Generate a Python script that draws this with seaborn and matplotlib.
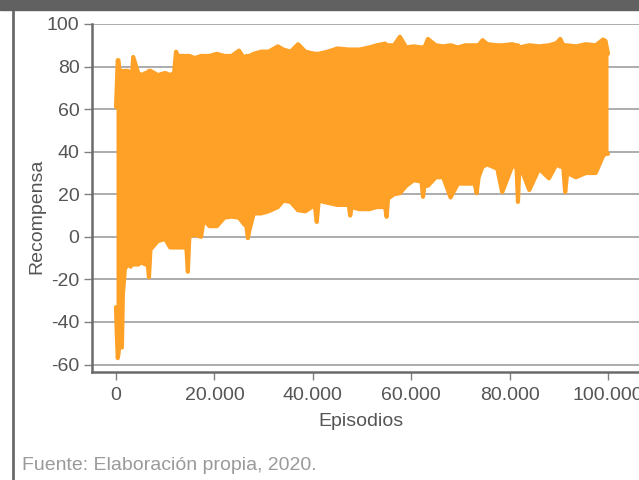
import numpy as np
import pandas as pd
import matplotlib
matplotlib.use("Agg")
import matplotlib.pyplot as plt
from matplotlib.lines import Line2D
from matplotlib.patches import Rectangle
from matplotlib.ticker import FuncFormatter
import seaborn as sns

# Envelope of the reward curve (max / min reward per stretch of episodes)
episodios = [0, 150, 350, 500, 700, 1000, 1200, 1400, 1800, 2400, 3000, 3300, 3500, 4500,
             5200, 6000, 6400, 6700, 7000, 8500, 10000, 11000, 11800, 12200, 12600, 13500,
             14300, 14600, 14900, 16000, 17300, 17800, 19000, 20500, 22000, 23500, 25000,
             26000, 26500, 26800, 27100, 28000, 29500, 31000, 32900, 34000, 35500, 37000,
             38500, 40400, 40800, 41200, 43000, 45000, 47300, 47600, 47900, 49500, 51500,
             53000, 54700, 55000, 55300, 56500, 57700, 59000, 60500, 62100, 62400, 62700,
             63400, 65000, 66500, 68000, 69500, 71000, 72900, 73300, 73700, 74500, 75500,
             77500, 78500, 80500, 81400, 81700, 82000, 84000, 86000, 88000, 89500, 90300,
             90900, 91300, 91700, 93500, 95500, 97500, 99000, 99500, 100000]
recompensa_max = [61, 70, 83, 83, 78, 78, 78, 77, 78, 78, 77, 78, 84.5, 77,
                  76, 77, 77, 78, 78, 76, 77, 76, 77, 87, 85, 85,
                  85, 85, 85, 84, 85, 85, 85, 86, 85, 85, 87.5,
                  84, 85, 84, 85, 86, 87, 87, 89.5, 88, 87, 90.5,
                  87, 86, 86, 86, 87, 88.5, 88, 88, 88, 88, 89,
                  90, 90.8, 90, 90, 90, 94, 89, 89.5, 89, 89, 89,
                  93, 90, 89.5, 90, 89, 90, 90, 90, 90, 92.4, 90.5,
                  90, 90, 90.5, 90, 90, 89, 90, 89.5, 90, 91, 93,
                  90, 90, 90, 89.5, 90.5, 90, 92.7, 92, 86]
recompensa_min = [-33, -45, -57, -55, -50, -52, -52, -27, -15, -13, -14, -11, -13, -13,
                  -12, -13, -12, -19, -6, -2, -1, -5, -5, -5, -5, -5,
                  -5, -16.4, 0, 1, 0, 8, 5, 5, 9, 9.5, 9,
                  6, 5, -0.6, 3, 11, 11, 12, 14, 17, 16.4, 12.5,
                  12, 15, 7, 17, 16, 15, 15, 10, 14, 13, 13,
                  14, 14, 9.4, 18, 20, 20.5, 24, 26.6, 26, 18.8, 24,
                  24, 28, 28, 18.5, 25, 25, 25, 20.5, 28, 33, 34,
                  32, 21, 33, 33, 16.4, 34, 22, 32, 27.5, 34, 33,
                  33, 21, 30, 28, 30, 30, 38, 39, 39]

y_ticks = [-60, -40, -20, 0, 20, 40, 60, 80, 100]
x_ticks = [0, 20000, 40000, 60000, 80000, 100000]

NARANJA = "#FFA126"
GRIS_TEXTO = "#555555"

sns.set_theme(style="white")
plt.rcParams["font.family"] = ["Liberation Sans", "DejaVu Sans"]
plt.rcParams["axes.unicode_minus"] = False

df = pd.DataFrame({
    "Episodios": episodios + episodios,
    "Recompensa": recompensa_max + recompensa_min,
    "borde": ["max"] * len(episodios) + ["min"] * len(episodios),
})

fig = plt.figure(figsize=(6.39, 4.8), dpi=100)
ax = fig.add_axes([92 / 639, 108 / 480, 547 / 639, 348 / 480])

# dense trace: filled between min and max reward
ax.fill_between(episodios, recompensa_min, recompensa_max, color=NARANJA, lw=0, zorder=3)
# rounded edges of the trace
sns.lineplot(data=df, x="Episodios", y="Recompensa", units="borde", estimator=None,
             color=NARANJA, lw=3, ax=ax, solid_capstyle="round",
             solid_joinstyle="round", zorder=3)

ax.set_xlim(-4880, 106300)
ax.set_ylim(-63.5, 100)
ax.set_yticks(y_ticks)
ax.set_xticks(x_ticks)
ax.xaxis.set_major_formatter(FuncFormatter(lambda v, p: f"{int(v):,}".replace(",", ".")))

ax.grid(axis="y", color="#a6a6a6", lw=1.3, zorder=0)
ax.grid(axis="x", visible=False)
for s in ["top", "right"]:
    ax.spines[s].set_visible(False)
for s in ["left", "bottom"]:
    ax.spines[s].set_color("#6b6b6b")
    ax.spines[s].set_linewidth(1.8)

ax.tick_params(axis="both", which="major", length=6, width=1, color="#808080",
               labelcolor=GRIS_TEXTO, labelsize=14, left=True, bottom=True)
ax.tick_params(axis="x", pad=5)
ax.tick_params(axis="y", pad=3)

ax.set_xlabel("Episodios", fontsize=14, color=GRIS_TEXTO)
ax.set_ylabel("Recompensa", fontsize=14, color=GRIS_TEXTO)
ax.yaxis.set_label_coords(-0.085, 0.448)
ax.xaxis.set_label_coords(0.492, -0.118)

# frame of the original page
fig.patches.append(Rectangle((0, 470 / 480), 1, 10 / 480, transform=fig.transFigure,
                             color="#616161", zorder=5))
fig.add_artist(Line2D([12.5 / 639, 12.5 / 639], [0, 470 / 480], transform=fig.transFigure,
                      color="#6a6a6a", lw=2))

fig.text(22 / 639, 15 / 480, "Fuente: Elaboración propia, 2020.", fontsize=14,
         color="#9a9a9a", ha="left", va="center")

fig.savefig("out.png", dpi=100)
